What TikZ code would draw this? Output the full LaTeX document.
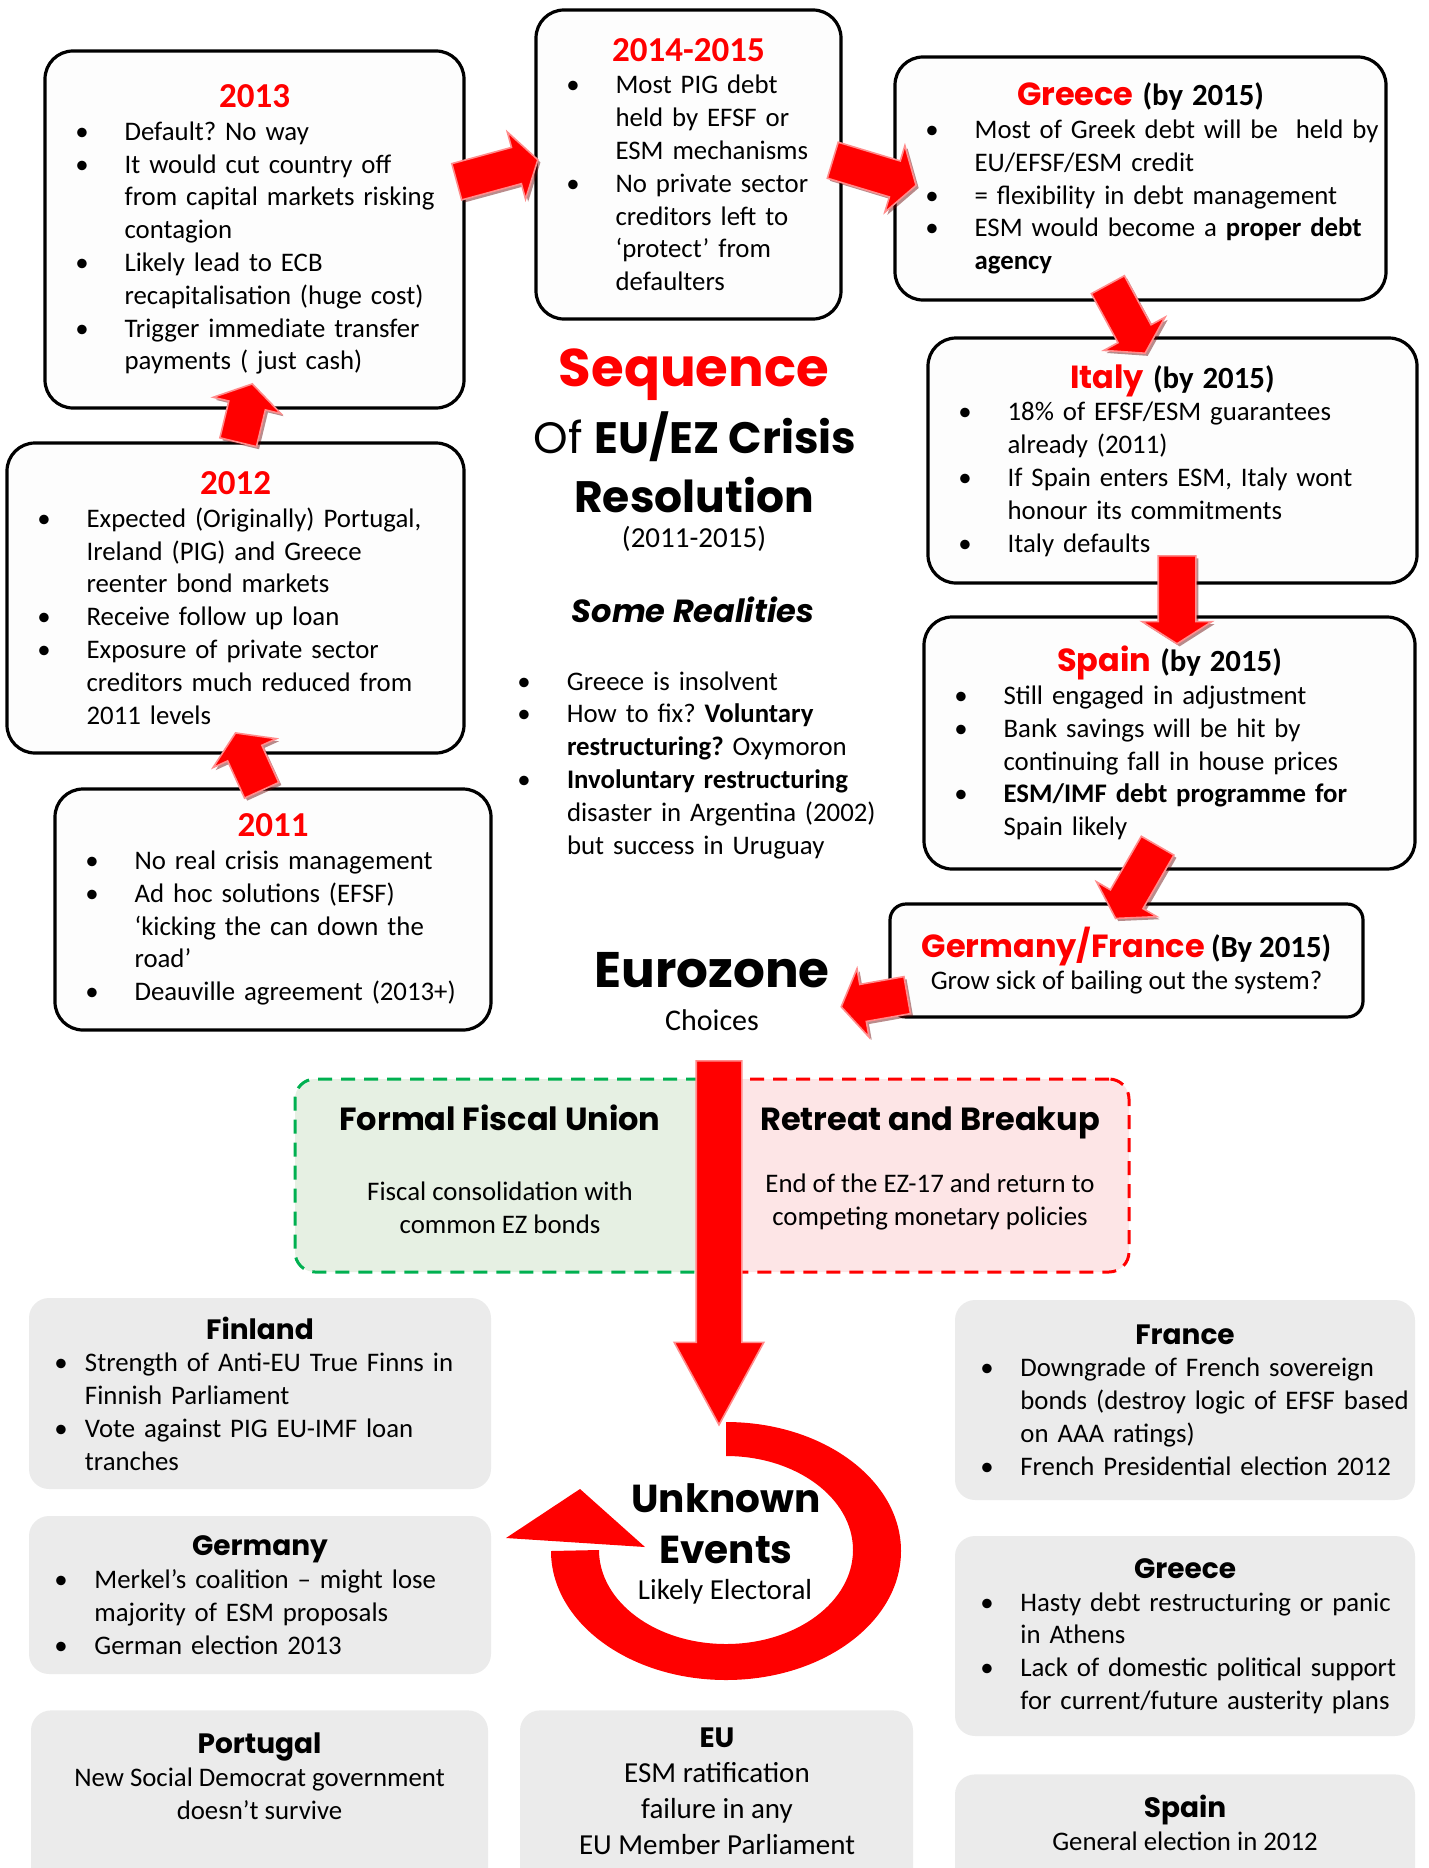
\documentclass[tikz,border=0pt]{standalone}
\usepackage{fontspec}
\setmainfont{Carlito}
\newfontfamily\gothic{Poppins}
\usetikzlibrary{positioning,shapes.arrows,shadows}
\frenchspacing

\definecolor{boxfill}{HTML}{FDFDFD}
\definecolor{greyfill}{HTML}{EBEBEB}
\definecolor{fugreen}{HTML}{00B050}
\definecolor{fufill}{HTML}{E6F0E3}
\definecolor{brfill}{HTML}{FDE5E6}

\newcommand{\yr}[1]{{\fontsize{17.5}{20}\selectfont\bfseries\color{red}#1}}
\newcommand{\cty}[1]{{\gothic\fontsize{16}{20}\selectfont\bfseries\color{red}#1}}
\newcommand{\byy}[1]{{\fontsize{15.4}{20}\selectfont\bfseries #1}}
\newcommand{\gt}[1]{{\gothic\fontsize{14}{16}\selectfont\bfseries #1}}
\newcommand{\itm}[2][24.6pt]{\par\hangindent=#1\hangafter=1\noindent\hbox to #1{\textbullet\hfil}#2\par}

\begin{document}
\begin{tikzpicture}[
x=0.5pt,y=-0.5pt,
box/.style={draw,line width=1.6pt,rounded corners=14pt,fill=boxfill,inner sep=0pt,align=left,font=\fontsize{13.4}{16.4}\selectfont},
gbox/.style={fill=greyfill,rounded corners=10pt,inner sep=0pt,align=left,font=\fontsize{13.4}{16.4}\selectfont},
blk/.style={single arrow,anchor=tail,fill=red,draw=red!45,line width=0.8pt,inner xsep=0pt,inner ysep=9pt,single arrow head extend=8pt,single arrow tip angle=115,single arrow head indent=0pt,drop shadow={shadow xshift=1.3pt,shadow yshift=-1.3pt,fill=red!40!black,opacity=0.45}},
bigblk/.style={single arrow,anchor=tail,fill=red,draw=red!45,line width=0.8pt,inner xsep=0pt,inner ysep=11pt,single arrow head extend=11pt,single arrow tip angle=57,single arrow head indent=0pt},
fudash/.style={draw=fugreen,fill=fufill,line width=1.5pt,dash pattern=on 7pt off 4.5pt,rounded corners=10pt},
brdash/.style={draw=red,fill=brfill,line width=1.5pt,dash pattern=on 7pt off 4.5pt,rounded corners=10pt},
body/.style={font=\fontsize{13.4}{16.4}\selectfont}
]
\useasboundingbox (0,0) rectangle (1429,1868);
\clip (0,0) rectangle (1429,1868);

% timeline boxes
\node[box,minimum width=209.5pt,minimum height=178.5pt,text width=209.5pt] (y2013) at (254.5,229.5) {%
\centerline{\yr{2013}}\par\leftskip=15.2pt
\itm{Default? No way}
\itm{It would cut country off\newline from capital markets risking\newline contagion}
\itm{Likely lead to ECB\newline recapitalisation (huge cost)}
\itm{Trigger immediate transfer\newline payments ( just cash)}};

\node[box,minimum width=152.5pt,minimum height=154.5pt,text width=152.5pt] (y2014) at (688.5,164.5) {%
\centerline{\yr{2014-2015}}\par\leftskip=15.2pt
\itm{Most PIG debt\newline held by EFSF or\newline ESM mechanisms}
\itm{No private sector\newline creditors left to\newline ‘protect’ from\newline defaulters}};

\node[box,minimum width=245.5pt,minimum height=121.5pt,text width=245.5pt] (greece) at (1140.5,178.5) {%
\centerline{\cty{Greece} \byy{(by 2015)}}\par\leftskip=15.2pt
\itm{Most of Greek debt will be \ held by\newline EU/EFSF/ESM credit}
\itm{= flexibility in debt management}
\itm{ESM would become a \textbf{proper debt\newline agency}}};

\node[box,minimum width=244.5pt,minimum height=122.5pt,text width=244.5pt] (italy) at (1172.5,460.5) {%
\centerline{\cty{Italy} \byy{(by 2015)}}\par\leftskip=15.2pt
\itm{18\% of EFSF/ESM guarantees\newline already (2011)}
\itm{If Spain enters ESM, Italy wont\newline honour its commitments}
\itm{Italy defaults}};

\node[box,minimum width=245.5pt,minimum height=126pt,text width=245.5pt] (spain) at (1169.5,743) {%
\centerline{\cty{Spain} \byy{(by 2015)}}\par\leftskip=15.2pt
\itm{Still engaged in adjustment}
\itm{Bank savings will be hit by\newline continuing fall in house prices}
\itm{\textbf{ESM/IMF debt programme for}\newline Spain likely}};

\node[box,rounded corners=8pt,minimum width=236.5pt,minimum height=56.5pt,align=center] (gerfra) at (1126.5,960.5) {\cty{Germany/France} \byy{(By 2015)}\\Grow sick of bailing out the system?};

\node[box,minimum width=228.5pt,minimum height=155pt,text width=228.5pt] (y2012) at (235.5,598) {%
\centerline{\yr{2012}}\par\leftskip=15.2pt
\itm{Expected (Originally) Portugal,\newline Ireland (PIG) and Greece\newline reenter bond markets}
\itm{Receive follow up loan}
\itm{Exposure of private sector\newline creditors much reduced from\newline 2011 levels}};

\node[box,minimum width=218pt,minimum height=120.5pt,text width=218pt] (y2011) at (273,909.5) {%
\centerline{\yr{2011}}\par\leftskip=15.2pt
\itm{No real crisis management}
\itm{Ad hoc solutions (EFSF)\newline ‘kicking the can down the\newline road’}
\itm{Deauville agreement (2013+)}};

% title and realities
\node[font=\gothic\bfseries\fontsize{26.5}{30}\selectfont,text=red] (seq) at (694,375) {Sequence};
\node[font=\gothic\fontsize{22}{26}\selectfont] (crisis) at (695,437) {Of \textbf{EU/EZ Crisis}};
\node[font=\gothic\bfseries\fontsize{22}{26}\selectfont] (resol) at (694,495) {Resolution};
\node[font=\fontsize{14.5}{17}\selectfont] (span) at (694,539) {(2011-2015)};
\node[font=\gothic\bfseries\itshape\fontsize{16}{19}\selectfont] (some) at (693,610) {Some Realities};
\node[body,align=left,text width=190pt,inner sep=0pt,anchor=west] (real) at (517,758) {%
\itm[24.8pt]{Greece is insolvent}
\itm[24.8pt]{How to fix? \textbf{Voluntary\newline restructuring?} Oxymoron}
\itm[24.8pt]{\textbf{Involuntary restructuring}\newline disaster in Argentina (2002)\newline but success in Uruguay}};

\node[font=\gothic\bfseries\fontsize{25}{30}\selectfont] (ez) at (712,970) {Eurozone};
\node[font=\fontsize{15}{18}\selectfont] (choices) at (712,1020) {Choices};

% choices
\node[fudash,minimum width=212.5pt,minimum height=96.5pt] (fiscal) at (507.5,1175.5) {};
\node[brdash,minimum width=203.5pt,minimum height=96.5pt] (breakup) at (925.5,1175.5) {};
\node[font=\gothic\bfseries\fontsize{16}{19}\selectfont] (fiscalttl) at (500,1118) {Formal Fiscal Union};
\node[body,align=center] (fiscaltxt) at (500,1208) {Fiscal consolidation with\\common EZ bonds};
\node[font=\gothic\bfseries\fontsize{16}{19}\selectfont] (breakttl) at (930,1123) {Retreat and Breakup};
\node[body,align=center] (breaktxt) at (930,1202) {End of the EZ-17 and return to\\competing monetary policies};

% unknown events
\node[gbox,minimum width=231pt,minimum height=95.5pt,text width=231pt] (finland) at (260,1393.5) {%
\centerline{\gt{Finland}}\par\leftskip=12.7pt
\itm[15.3pt]{Strength of Anti-EU True Finns in\newline Finnish Parliament}
\itm[15.3pt]{Vote against PIG EU-IMF loan\newline tranches}};

\node[gbox,minimum width=231pt,minimum height=79pt,text width=231pt] (germany) at (260,1595) {%
\centerline{\gt{Germany}}\par\leftskip=12.7pt
\itm[20pt]{Merkel’s coalition – might lose\newline majority of ESM proposals}
\itm[20pt]{German election 2013}};

\node[gbox,minimum width=230pt,minimum height=100pt,text width=230pt] (france) at (1185,1400) {%
\centerline{\gt{France}}\par\leftskip=12.7pt
\itm[20pt]{Downgrade of French sovereign\newline bonds (destroy logic of EFSF based\newline on AAA ratings)}
\itm[20pt]{French Presidential election 2012}};

\node[gbox,minimum width=230pt,minimum height=100pt,text width=230pt] (greecebox) at (1185,1636) {%
\centerline{\gt{Greece}}\par\leftskip=12.7pt
\itm[20pt]{Hasty debt restructuring or panic\newline in Athens}
\itm[20pt]{Lack of domestic political support\newline for current/future austerity plans}};

\node[gbox,minimum width=228.5pt,minimum height=150pt,anchor=north] (portugal) at (259.5,1710) {};
\node[body,align=center] (portugaltxt) at (259.5,1776) {\gt{Portugal}\\New Social Democrat government\\doesn’t survive};
\node[gbox,minimum width=196.5pt,minimum height=150pt,anchor=north] (eubox) at (716.5,1710) {};
\node[font=\fontsize{14.5}{17.9}\selectfont,align=center] (eutxt) at (717,1791) {\gt{EU}\\ESM ratification\\failure in any\\EU Member Parliament};
\node[gbox,minimum width=230pt,minimum height=150pt,anchor=north] (spainbox) at (1185,1774) {};
\node[body,align=center] (spaintxt) at (1185,1823) {\gt{Spain}\\General election in 2012};

% ring arrow
\fill[red] (726,1422) arc[start angle=-90,end angle=180,x radius=175,y radius=129] -- (599,1550)
  arc[start angle=180,end angle=-90,x radius=127,y radius=94] -- cycle;
\fill[red] (506,1538) -- (580,1489) -- (645,1547) -- cycle;
\node[font=\gothic\bfseries\fontsize{19.5}{24}\selectfont] (unknown) at (726,1498) {Unknown};
\node[font=\gothic\bfseries\fontsize{19.5}{24}\selectfont] (events) at (726,1550) {Events};
\node[font=\fontsize{14.5}{17}\selectfont] (likely) at (725,1592) {Likely Electoral};

% block arrows
\node[bigblk,rotate=-90,minimum height=182pt] (down) at (719,1060) {};
\node[blk,rotate=114.5,minimum height=31.5pt] (a1112) at (262,791) {};
\node[blk,rotate=76.4,minimum height=30pt] (a1213) at (238,443) {};
\node[blk,rotate=15.2,minimum height=42pt] (a1314) at (456,182) {};
\node[blk,rotate=-16.8,minimum height=43.5pt] (a14gr) at (832,160) {};
\node[blk,rotate=-61.5,minimum height=39pt] (agrit) at (1107.5,284) {};
\node[blk,rotate=-90,minimum height=44pt] (aitsp) at (1177,555) {};
\node[blk,rotate=-120,minimum height=42pt] (aspgf) at (1158,845) {};
\node[blk,rotate=190,minimum height=33.5pt] (agfez) at (908,995) {};
\end{tikzpicture}
\end{document}
